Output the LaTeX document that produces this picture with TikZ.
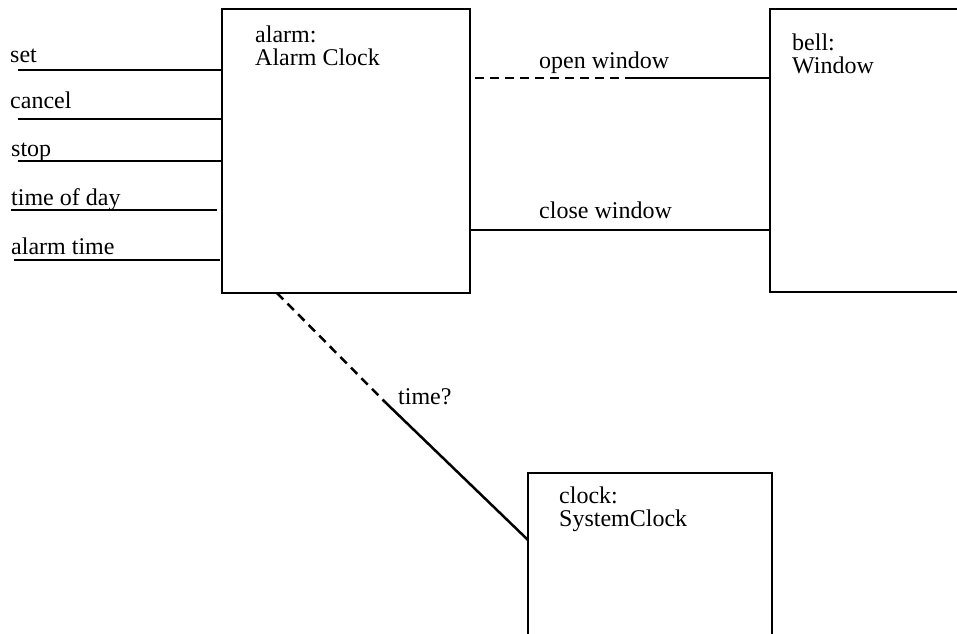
\documentclass[tikz,border=0pt]{standalone}
\usepackage{fontspec}
\setmainfont{Liberation Serif}
\begin{document}
\begin{tikzpicture}[x=1pt,y=-1pt,
  objbox/.style={draw,line width=2.5pt,rectangle,inner sep=0pt,outer sep=0pt},
  lbl/.style={anchor=base west,inner sep=0pt,font=\fontsize{24}{28}\selectfont},
  wire/.style={line width=2.5pt},
  dwire/.style={line width=2.5pt,dash pattern=on 9pt off 6pt}]
\useasboundingbox (0,0) rectangle (957,633);
\clip (0,0) rectangle (957,633);
% boxes
\node[objbox,minimum width=248pt,minimum height=284pt] (alarm) at (346,151) {};
\node[objbox,minimum width=250pt,minimum height=283pt] (bell) at (895,150.5) {};
\node[objbox,minimum width=244pt,minimum height=162pt] (clock) at (650,554) {};
% box texts
\node[lbl] (alarmA) at (255,42) {alarm:};
\node[lbl] (alarmB) at (255,65) {Alarm Clock};
\node[lbl] (bellA) at (792,50) {bell:};
\node[lbl] (bellB) at (792,73) {Window};
\node[lbl] (clockA) at (559,503) {clock:};
\node[lbl] (clockB) at (559,526) {SystemClock};
% input labels
\node[lbl] (lset) at (10,62) {set};
\node[lbl] (lcancel) at (10,108) {cancel};
\node[lbl] (lstop) at (11,156) {stop};
\node[lbl] (ltod) at (11,205) {time of day};
\node[lbl] (lat) at (11,254) {alarm time};
% input lines
\coordinate (s0) at (18,70);
\coordinate (c0) at (18,119);
\coordinate (p0) at (18,161);
\coordinate (t0) at (11,210);
\coordinate (t1) at (217,210);
\coordinate (a0) at (14,260);
\coordinate (a1) at (220,260);
\draw[wire] (s0) -- (alarm.west |- s0);
\draw[wire] (c0) -- (alarm.west |- c0);
\draw[wire] (p0) -- (alarm.west |- p0);
\draw[wire] (t0) -- (t1);
\draw[wire] (a0) -- (a1);
% open window
\coordinate (ow0) at (475,78);
\coordinate (ow1) at (630,78);
\draw[dwire] (ow0) -- (ow1);
\draw[wire] (ow1) -- (bell.west |- ow1);
\node[lbl] (lopen) at (539,68) {open window};
% close window
\coordinate (cw0) at (470,230);
\draw[wire] (alarm.east |- cw0) -- (bell.west |- cw0);
\node[lbl] (lclose) at (539,218) {close window};
% time?
\coordinate (tm0) at (277,293);
\coordinate (tm1) at (385,402);
\coordinate (tm2) at (528,540);
\draw[dwire] (tm0) -- (tm1);
\draw[wire] (tm1) -- (tm2);
\node[lbl] (ltime) at (398,404) {time?};
\end{tikzpicture}
\end{document}
